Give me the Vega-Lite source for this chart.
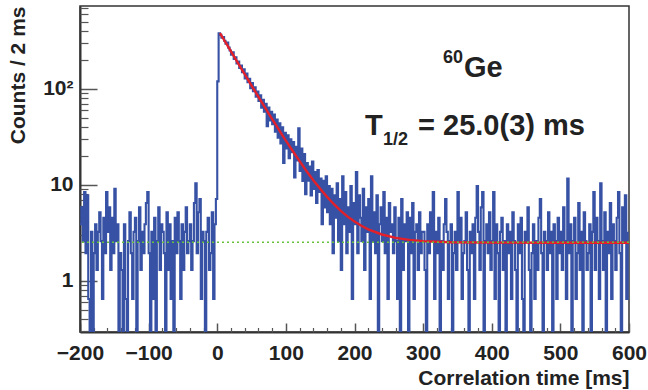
{
"$schema": "https://vega.github.io/schema/vega-lite/v6.json",
"width": 549, "height": 326,
"autosize": "none",
"padding": {"left": 80, "top": 6, "right": 19, "bottom": 58},
"background": "white",
"config": {"view": {"stroke": "#333", "strokeWidth": 1.5}, "font": "Liberation Sans", "axis": {"grid": false}},
"datasets": {
"hist": [
{"t":-200,"c":3.9},{"t":-198,"c":5.85},{"t":-196,"c":2.6},{"t":-194,"c":8.45},{"t":-192,"c":1.95},{"t":-190,"c":7.8},{"t":-188,"c":0.65},{"t":-186,"c":0},{"t":-184,"c":3.25},{"t":-182,"c":0},
{"t":-180,"c":1.95},{"t":-178,"c":3.9},{"t":-176,"c":1.3},{"t":-174,"c":3.25},{"t":-172,"c":5.2},{"t":-170,"c":2.6},{"t":-168,"c":0.65},{"t":-166,"c":4.55},{"t":-164,"c":1.95},{"t":-162,"c":8.45},
{"t":-160,"c":3.25},{"t":-158,"c":5.85},{"t":-156,"c":1.3},{"t":-154,"c":4.55},{"t":-152,"c":1.95},{"t":-150,"c":9.1},{"t":-148,"c":2.6},{"t":-146,"c":3.9},{"t":-144,"c":0},{"t":-142,"c":1.95},
{"t":-140,"c":1.3},{"t":-138,"c":0},{"t":-136,"c":3.9},{"t":-134,"c":0.65},{"t":-132,"c":0},{"t":-130,"c":2.6},{"t":-128,"c":5.2},{"t":-126,"c":1.95},{"t":-124,"c":0.65},{"t":-122,"c":3.25},
{"t":-120,"c":4.55},{"t":-118,"c":0},{"t":-116,"c":2.6},{"t":-114,"c":5.85},{"t":-112,"c":1.3},{"t":-110,"c":3.25},{"t":-108,"c":1.95},{"t":-106,"c":3.9},{"t":-104,"c":6.5},{"t":-102,"c":8.45},
{"t":-100,"c":1.95},{"t":-98,"c":0},{"t":-96,"c":3.25},{"t":-94,"c":0.65},{"t":-92,"c":4.55},{"t":-90,"c":0},{"t":-88,"c":2.6},{"t":-86,"c":5.85},{"t":-84,"c":1.3},{"t":-82,"c":3.9},
{"t":-80,"c":3.25},{"t":-78,"c":1.95},{"t":-76,"c":0},{"t":-74,"c":5.2},{"t":-72,"c":1.3},{"t":-70,"c":3.9},{"t":-68,"c":0.65},{"t":-66,"c":2.6},{"t":-64,"c":0},{"t":-62,"c":4.55},
{"t":-60,"c":1.95},{"t":-58,"c":5.2},{"t":-56,"c":2.6},{"t":-54,"c":0.65},{"t":-52,"c":3.9},{"t":-50,"c":1.3},{"t":-48,"c":3.25},{"t":-46,"c":5.85},{"t":-44,"c":1.95},{"t":-42,"c":2.6},
{"t":-40,"c":3.9},{"t":-38,"c":1.3},{"t":-36,"c":2.6},{"t":-34,"c":6.5},{"t":-32,"c":10.4},{"t":-30,"c":1.95},{"t":-28,"c":5.2},{"t":-26,"c":7.15},{"t":-24,"c":0.65},{"t":-22,"c":3.25},
{"t":-20,"c":2.6},{"t":-18,"c":0},{"t":-16,"c":3.25},{"t":-14,"c":4.55},{"t":-12,"c":1.3},{"t":-10,"c":1.95},{"t":-8,"c":5.2},{"t":-6,"c":0.65},{"t":-4,"c":3.9},{"t":-2,"c":7.15},
{"t":0,"c":120},{"t":2,"c":381},{"t":4,"c":366},{"t":6,"c":343},{"t":8,"c":348},{"t":10,"c":318},{"t":12,"c":296},{"t":14,"c":305},{"t":16,"c":270},{"t":18,"c":252},
{"t":20,"c":228},{"t":22,"c":241},{"t":24,"c":205},{"t":26,"c":214},{"t":28,"c":184},{"t":30,"c":193},{"t":32,"c":166},{"t":34,"c":175},{"t":36,"c":150},{"t":38,"c":160},
{"t":40,"c":129},{"t":42,"c":145},{"t":44,"c":118},{"t":46,"c":128},{"t":48,"c":102},{"t":50,"c":115},{"t":52,"c":95},{"t":54,"c":104},{"t":56,"c":83},{"t":58,"c":94},
{"t":60,"c":75},{"t":62,"c":86},{"t":64,"c":64},{"t":66,"c":77},{"t":68,"c":58},{"t":70,"c":70},{"t":72,"c":41},{"t":74,"c":64},{"t":76,"c":47},{"t":78,"c":58},
{"t":80,"c":43},{"t":82,"c":54},{"t":84,"c":36},{"t":86,"c":48},{"t":88,"c":31},{"t":90,"c":44},{"t":92,"c":27},{"t":94,"c":40},{"t":96,"c":17},{"t":98,"c":35},
{"t":100,"c":24},{"t":102,"c":33},{"t":104,"c":19},{"t":106,"c":30},{"t":108,"c":22},{"t":110,"c":28},{"t":112,"c":12},{"t":114,"c":25},{"t":116,"c":18},{"t":118,"c":39},
{"t":120,"c":14},{"t":122,"c":24},{"t":124,"c":11},{"t":126,"c":21},{"t":128,"c":8},
{"t":130,"c":16.9},{"t":132,"c":11.05},{"t":134,"c":15.6},{"t":136,"c":7.8},{"t":138,"c":17.55},{"t":140,"c":9.1},{"t":142,"c":13.65},{"t":144,"c":6.5},{"t":146,"c":14.3},{"t":148,"c":8.45},
{"t":150,"c":11.7},{"t":152,"c":3.9},{"t":154,"c":11.05},{"t":156,"c":5.85},{"t":158,"c":12.35},{"t":160,"c":5.2},{"t":162,"c":9.75},{"t":164,"c":3.9},{"t":166,"c":9.1},{"t":168,"c":1.95},
{"t":170,"c":7.8},{"t":172,"c":4.55},{"t":174,"c":10.4},{"t":176,"c":2.6},{"t":178,"c":7.15},{"t":180,"c":1.3},{"t":182,"c":12.35},{"t":184,"c":3.9},{"t":186,"c":8.45},{"t":188,"c":1.95},
{"t":190,"c":5.85},{"t":192,"c":3.25},{"t":194,"c":9.75},{"t":196,"c":0.65},{"t":198,"c":6.5},{"t":200,"c":3.9},{"t":202,"c":13.65},{"t":204,"c":1.95},{"t":206,"c":7.8},{"t":208,"c":4.55},
{"t":210,"c":2.6},{"t":212,"c":9.1},{"t":214,"c":1.3},{"t":216,"c":5.85},{"t":218,"c":3.25},{"t":220,"c":7.15},{"t":222,"c":0.65},{"t":224,"c":12.35},{"t":226,"c":2.6},{"t":228,"c":5.2},
{"t":230,"c":1.95},{"t":232,"c":7.8},{"t":234,"c":0},{"t":236,"c":3.9},{"t":238,"c":5.85},{"t":240,"c":2.6},{"t":242,"c":8.45},{"t":244,"c":1.95},{"t":246,"c":4.55},{"t":248,"c":0.65},
{"t":250,"c":6.5},{"t":252,"c":3.25},{"t":254,"c":3.9},{"t":256,"c":1.95},{"t":258,"c":5.85},{"t":260,"c":2.6},{"t":262,"c":0.65},{"t":264,"c":4.55},{"t":266,"c":0},{"t":268,"c":7.15},
{"t":270,"c":1.3},{"t":272,"c":3.9},{"t":274,"c":2.6},{"t":276,"c":5.2},{"t":278,"c":0},{"t":280,"c":4.55},{"t":282,"c":1.95},{"t":284,"c":6.5},{"t":286,"c":0.65},{"t":288,"c":3.25},
{"t":290,"c":3.9},{"t":292,"c":1.3},{"t":294,"c":5.2},{"t":296,"c":1.95},{"t":298,"c":3.25},
{"t":300,"c":3.25},{"t":302,"c":1.3},{"t":304,"c":0},{"t":306,"c":3.9},{"t":308,"c":1.95},{"t":310,"c":5.2},{"t":312,"c":2.6},{"t":314,"c":8.45},{"t":316,"c":0.65},{"t":318,"c":3.25},
{"t":320,"c":1.95},{"t":322,"c":4.55},{"t":324,"c":0},{"t":326,"c":2.6},{"t":328,"c":1.3},{"t":330,"c":3.9},{"t":332,"c":7.15},{"t":334,"c":3.25},{"t":336,"c":0.65},{"t":338,"c":2.6},
{"t":340,"c":3.9},{"t":342,"c":0},{"t":344,"c":1.95},{"t":346,"c":3.25},{"t":348,"c":1.3},{"t":350,"c":8.45},{"t":352,"c":2.6},{"t":354,"c":4.55},{"t":356,"c":0.65},{"t":358,"c":1.95},
{"t":360,"c":2.6},{"t":362,"c":5.2},{"t":364,"c":1.3},{"t":366,"c":0},{"t":368,"c":3.25},{"t":370,"c":1.95},{"t":372,"c":3.9},{"t":374,"c":0.65},{"t":376,"c":4.55},{"t":378,"c":9.75},
{"t":380,"c":3.25},{"t":382,"c":1.3},{"t":384,"c":5.85},{"t":386,"c":8.45},{"t":388,"c":0},{"t":390,"c":2.6},{"t":392,"c":3.9},{"t":394,"c":1.95},{"t":396,"c":5.2},{"t":398,"c":1.3},
{"t":400,"c":2.6},{"t":402,"c":8.45},{"t":404,"c":0.65},{"t":406,"c":3.9},{"t":408,"c":1.95},{"t":410,"c":0},{"t":412,"c":3.25},{"t":414,"c":4.55},{"t":416,"c":1.3},{"t":418,"c":2.6},
{"t":420,"c":0},{"t":422,"c":3.9},{"t":424,"c":1.95},{"t":426,"c":3.25},{"t":428,"c":0.65},{"t":430,"c":5.2},{"t":432,"c":2.6},{"t":434,"c":1.3},{"t":436,"c":0},{"t":438,"c":3.9},
{"t":440,"c":1.95},{"t":442,"c":4.55},{"t":444,"c":0.65},{"t":446,"c":0},{"t":448,"c":3.25},{"t":450,"c":2.6},{"t":452,"c":5.85},{"t":454,"c":1.3},{"t":456,"c":0},{"t":458,"c":1.95},
{"t":460,"c":3.9},{"t":462,"c":0.65},{"t":464,"c":2.6},{"t":466,"c":1.3},{"t":468,"c":4.55},{"t":470,"c":7.15},{"t":472,"c":1.95},{"t":474,"c":0},{"t":476,"c":3.25},{"t":478,"c":2.6},
{"t":480,"c":1.3},{"t":482,"c":5.2},{"t":484,"c":1.95},{"t":486,"c":3.25},{"t":488,"c":0},{"t":490,"c":3.9},{"t":492,"c":2.6},{"t":494,"c":0.65},{"t":496,"c":4.55},{"t":498,"c":1.95},
{"t":500,"c":3.25},{"t":502,"c":1.3},{"t":504,"c":5.85},{"t":506,"c":2.6},{"t":508,"c":0.65},{"t":510,"c":11.7},{"t":512,"c":1.95},{"t":514,"c":3.9},{"t":516,"c":0},{"t":518,"c":2.6},
{"t":520,"c":4.55},{"t":522,"c":0.65},{"t":524,"c":1.95},{"t":526,"c":6.5},{"t":528,"c":1.3},{"t":530,"c":3.25},{"t":532,"c":0},{"t":534,"c":5.2},{"t":536,"c":2.6},{"t":538,"c":1.3},
{"t":540,"c":1.95},{"t":542,"c":3.9},{"t":544,"c":0},{"t":546,"c":3.25},{"t":548,"c":8.45},{"t":550,"c":1.3},{"t":552,"c":4.55},{"t":554,"c":2.6},{"t":556,"c":0.65},{"t":558,"c":10.4},
{"t":560,"c":2.6},{"t":562,"c":1.3},{"t":564,"c":5.2},{"t":566,"c":0},{"t":568,"c":3.25},{"t":570,"c":1.95},{"t":572,"c":6.5},{"t":574,"c":0.65},{"t":576,"c":3.9},{"t":578,"c":2.6},
{"t":580,"c":1.3},{"t":582,"c":4.55},{"t":584,"c":8.45},{"t":586,"c":1.95},{"t":588,"c":0},{"t":590,"c":5.85},{"t":592,"c":2.6},{"t":594,"c":7.8},{"t":596,"c":0.65},{"t":598,"c":3.25}
],
"fit": [
{"t":4,"f":382.0},{"t":5,"f":371.6},{"t":10,"f":323.8},{"t":15,"f":282.3},{"t":20,"f":246.0},{"t":25,"f":214.5},{"t":30,"f":187.1},{"t":35,"f":163.2},{"t":40,"f":142.4},{"t":45,"f":124.3},
{"t":50,"f":108.5},{"t":55,"f":94.8},{"t":60,"f":82.8},{"t":65,"f":72.4},{"t":70,"f":63.4},{"t":75,"f":55.5},{"t":80,"f":48.6},{"t":85,"f":42.7},{"t":90,"f":37.5},{"t":95,"f":32.9},
{"t":100,"f":29.0},{"t":110,"f":22.6},{"t":120,"f":17.7},{"t":130,"f":14.0},{"t":140,"f":11.2},{"t":150,"f":9.13},{"t":160,"f":7.52},{"t":170,"f":6.30},{"t":180,"f":5.38},{"t":190,"f":4.68},
{"t":200,"f":4.16},{"t":210,"f":3.76},{"t":220,"f":3.45},{"t":240,"f":3.05},{"t":260,"f":2.81},{"t":280,"f":2.68},{"t":300,"f":2.60},{"t":340,"f":2.53},{"t":400,"f":2.51},{"t":500,"f":2.50},{"t":600,"f":2.50}
],
"big": [
{"t":359.6,"c":133.4,"txt":"Ge"},{"t":215.3,"c":33.2,"txt":"T"},{"t":292.6,"c":33.2,"txt":"= 25.0(3) ms"}
],
"small": [
{"t":329,"c":186.6,"txt":"60"},{"t":241.5,"c":26.1,"txt":"1/2"}
]
},
"layer": [
{"data": {"name": "hist"},
 "mark": {"type": "line", "interpolate": "step-after", "color": "#3752a5", "strokeWidth": 2.1, "invalid": "show", "clip": true},
 "encoding": {
  "x": {"field": "t", "type": "quantitative", "scale": {"domain": [-200, 600], "nice": false, "zero": false},
   "axis": {"orient": "bottom", "values": [-200,-100,0,100,200,300,400,500,600], "tickSize": -9, "tickWidth": 1.5, "tickColor": "#555", "domainColor": "#333", "domainWidth": 2,
    "labelFontSize": 21, "labelFontWeight": "bold", "labelColor": "#222", "labelPadding": 19, "labelFlush": false, "labelOverlap": false,
    "title": "Correlation time [ms]", "titleFontSize": 21, "titleFontWeight": "bold", "titleColor": "#222", "titleAnchor": "end", "titlePadding": 4}},
  "y": {"field": "c", "type": "quantitative", "scale": {"type": "log", "domain": [0.294, 732], "nice": false, "clamp": true},
   "axis": {"orient": "left", "values": [1,10,100], "tickSize": -17, "tickWidth": 1.5, "tickColor": "#555", "domainColor": "#333", "domainWidth": 2,
    "labelExpr": "datum.value == 100 ? '10²' : (datum.value == 10 ? '10' : '1')",
    "labelFontSize": 21, "labelFontWeight": "bold", "labelColor": "#222", "labelPadding": 24, "labelOverlap": false,
    "title": "Counts / 2 ms", "titleFontSize": 21, "titleFontWeight": "bold", "titleColor": "#222", "titleAnchor": "end", "titlePadding": 14}}
 }},
{"data": {"name": "fit"},
 "mark": {"type": "line", "color": "#e3202a", "strokeWidth": 2.4, "clip": true},
 "encoding": {
  "x": {"field": "t", "type": "quantitative",
   "axis": {"orient": "bottom", "values": [-180,-160,-140,-120,-80,-60,-40,-20,20,40,60,80,120,140,160,180,220,240,260,280,320,340,360,380,420,440,460,480,520,540,560,580], "tickSize": -4.5, "tickWidth": 1.2, "tickColor": "#555", "labels": false, "domain": false, "title": null}},
  "y": {"field": "f", "type": "quantitative",
   "axis": {"orient": "left", "values": [0.3,0.4,0.5,0.6,0.7,0.8,0.9,2,3,4,5,6,7,8,9,20,30,40,50,60,70,80,90,200,300,400,500,600,700], "tickSize": -8, "tickWidth": 1.2, "tickColor": "#555", "labels": false, "domain": false, "title": null}}
 }},
{"data": {"values": [{}]},
 "mark": {"type": "rule", "color": "#66c23c", "strokeDash": [2, 3], "strokeWidth": 1.5},
 "encoding": {"y": {"datum": 2.53, "type": "quantitative", "axis": null}}},
{"data": {"name": "big"},
 "mark": {"type": "text", "align": "left", "baseline": "alphabetic", "fontSize": 29, "fontWeight": "bold", "color": "#222"},
 "encoding": {"x": {"field": "t", "type": "quantitative", "axis": null}, "y": {"field": "c", "type": "quantitative", "axis": null}, "text": {"field": "txt"}}},
{"data": {"name": "small"},
 "mark": {"type": "text", "align": "left", "baseline": "alphabetic", "fontSize": 18, "fontWeight": "bold", "color": "#222"},
 "encoding": {"x": {"field": "t", "type": "quantitative", "axis": null}, "y": {"field": "c", "type": "quantitative", "axis": null}, "text": {"field": "txt"}}}
],
"resolve": {"axis": {"x": "independent", "y": "independent"}}
}
